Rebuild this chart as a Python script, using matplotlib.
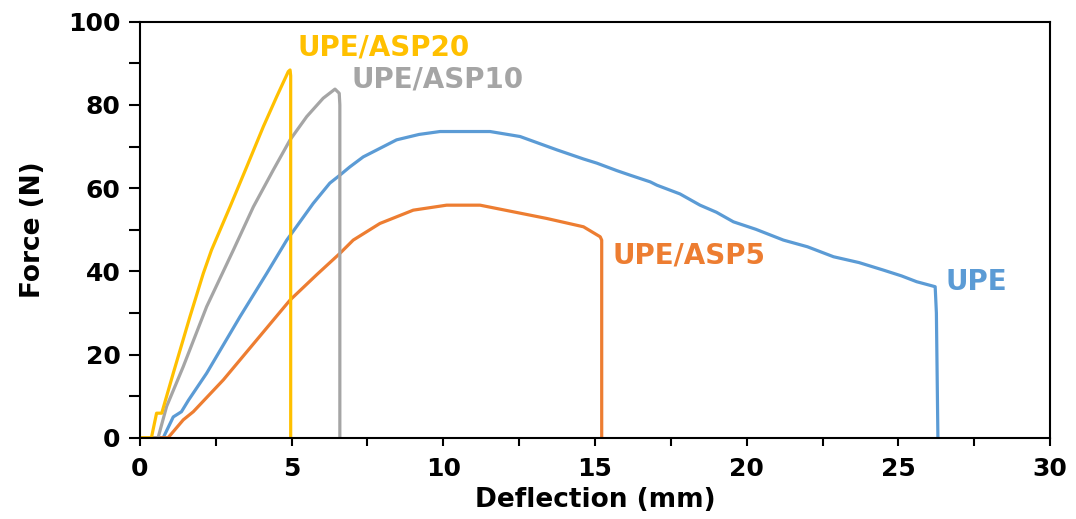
import matplotlib.pyplot as plt
from matplotlib.ticker import MultipleLocator

plt.rcParams['font.family'] = ['DejaVu Sans']
plt.rcParams['font.weight'] = 'bold'

# Force-deflection curves (mm, N)
upe_x = [0, 0.77, 1.1, 1.37, 1.6, 2.2, 3.3, 4.18, 4.84, 5.05, 5.71, 6.26, 6.59,
         6.92, 7.36, 8.46, 9.2, 9.89, 11.54, 12.53, 13.74, 14.62, 15.06, 15.72,
         16.16, 16.82, 17.04, 17.8, 18.46, 19.0, 19.56, 20.3, 21.21, 22.0, 22.86,
         23.7, 24.5, 25.1, 25.6, 26.21, 26.25, 26.3]
upe_y = [0, 0, 5.0, 6.25, 9, 15.5, 29.1, 39.5, 47.5, 49.6, 56.3, 61.2, 63.1,
         65.1, 67.5, 71.6, 72.9, 73.6, 73.6, 72.4, 69.2, 67.0, 66.0, 64.2,
         63.1, 61.5, 60.7, 58.6, 55.9, 54.2, 51.9, 50.1, 47.5, 45.9, 43.5,
         42.1, 40.3, 38.9, 37.5, 36.3, 30, 0]

asp5_x = [0, 0.93, 1.43, 1.76, 2.75, 3.85, 4.95, 5.83, 6.59, 7.03, 7.91, 9.01,
          10.11, 11.21, 12.31, 13.41, 14.62, 15.17, 15.22, 15.22]
asp5_y = [0, 0, 4.3, 6.25, 13.9, 23.5, 33.1, 39.2, 44.3, 47.5, 51.5, 54.7,
          55.9, 55.9, 54.3, 52.7, 50.7, 48.3, 47.5, 0]

asp10_x = [0, 0.6, 0.88, 1.43, 2.2, 3.08, 3.74, 4.40, 4.95, 5.50, 6.04,
           6.43, 6.57, 6.59, 6.59]
asp10_y = [0, 0, 7.5, 17.1, 31.5, 45.1, 55.5, 64.4, 71.6, 77.2, 81.6,
           83.8, 82.8, 80, 0]

asp20_x = [0, 0.38, 0.55, 0.72, 1.1, 1.65, 2.09, 2.36, 2.97, 3.52, 4.07, 4.51,
           4.89, 4.95, 4.97, 4.97]
asp20_y = [0, 0, 5.9, 5.9, 15.5, 29.1, 39.5, 45.1, 55.5, 65.1, 74.8, 82.0,
           88.0, 88.4, 87, 0]

series = [
    ("UPE", upe_x, upe_y, "#5B9BD5", (26.54, 37.4)),
    ("UPE/ASP5", asp5_x, asp5_y, "#ED7D31", (15.56, 43.9)),
    ("UPE/ASP10", asp10_x, asp10_y, "#A5A5A5", (6.99, 86.0)),
    ("UPE/ASP20", asp20_x, asp20_y, "#FFC000", (5.21, 93.9)),
]

fig = plt.figure(figsize=(10.76, 5.19), dpi=100)
ax = fig.add_axes([0.130, 0.1566, 0.846, 0.8016])

for name, xs, ys, col, (tx, ty) in series:
    ax.plot(xs, ys, color=col, lw=2.3, solid_joinstyle='round')
    ax.text(tx, ty, name, color=col, fontsize=20, fontweight='bold',
            ha='left', va='center')

ax.set_xlim(0, 30)
ax.set_ylim(0, 100)
ax.xaxis.set_major_locator(MultipleLocator(5))
ax.xaxis.set_minor_locator(MultipleLocator(2.5))
ax.yaxis.set_major_locator(MultipleLocator(20))
ax.yaxis.set_minor_locator(MultipleLocator(10))
ax.tick_params(which='both', direction='out', width=1.5, labelsize=18)
ax.tick_params(axis='x', which='both', length=6, pad=8)
ax.tick_params(axis='y', which='both', length=8, pad=6)
for lab in ax.get_xticklabels() + ax.get_yticklabels():
    lab.set_fontweight('bold')
for sp in ax.spines.values():
    sp.set_linewidth(1.5)

ax.set_xlabel("Deflection (mm)", fontsize=19, fontweight='bold', labelpad=4)
ax.set_ylabel("Force (N)", fontsize=19, fontweight='bold', labelpad=16)

fig.savefig("out.png", dpi=100)
